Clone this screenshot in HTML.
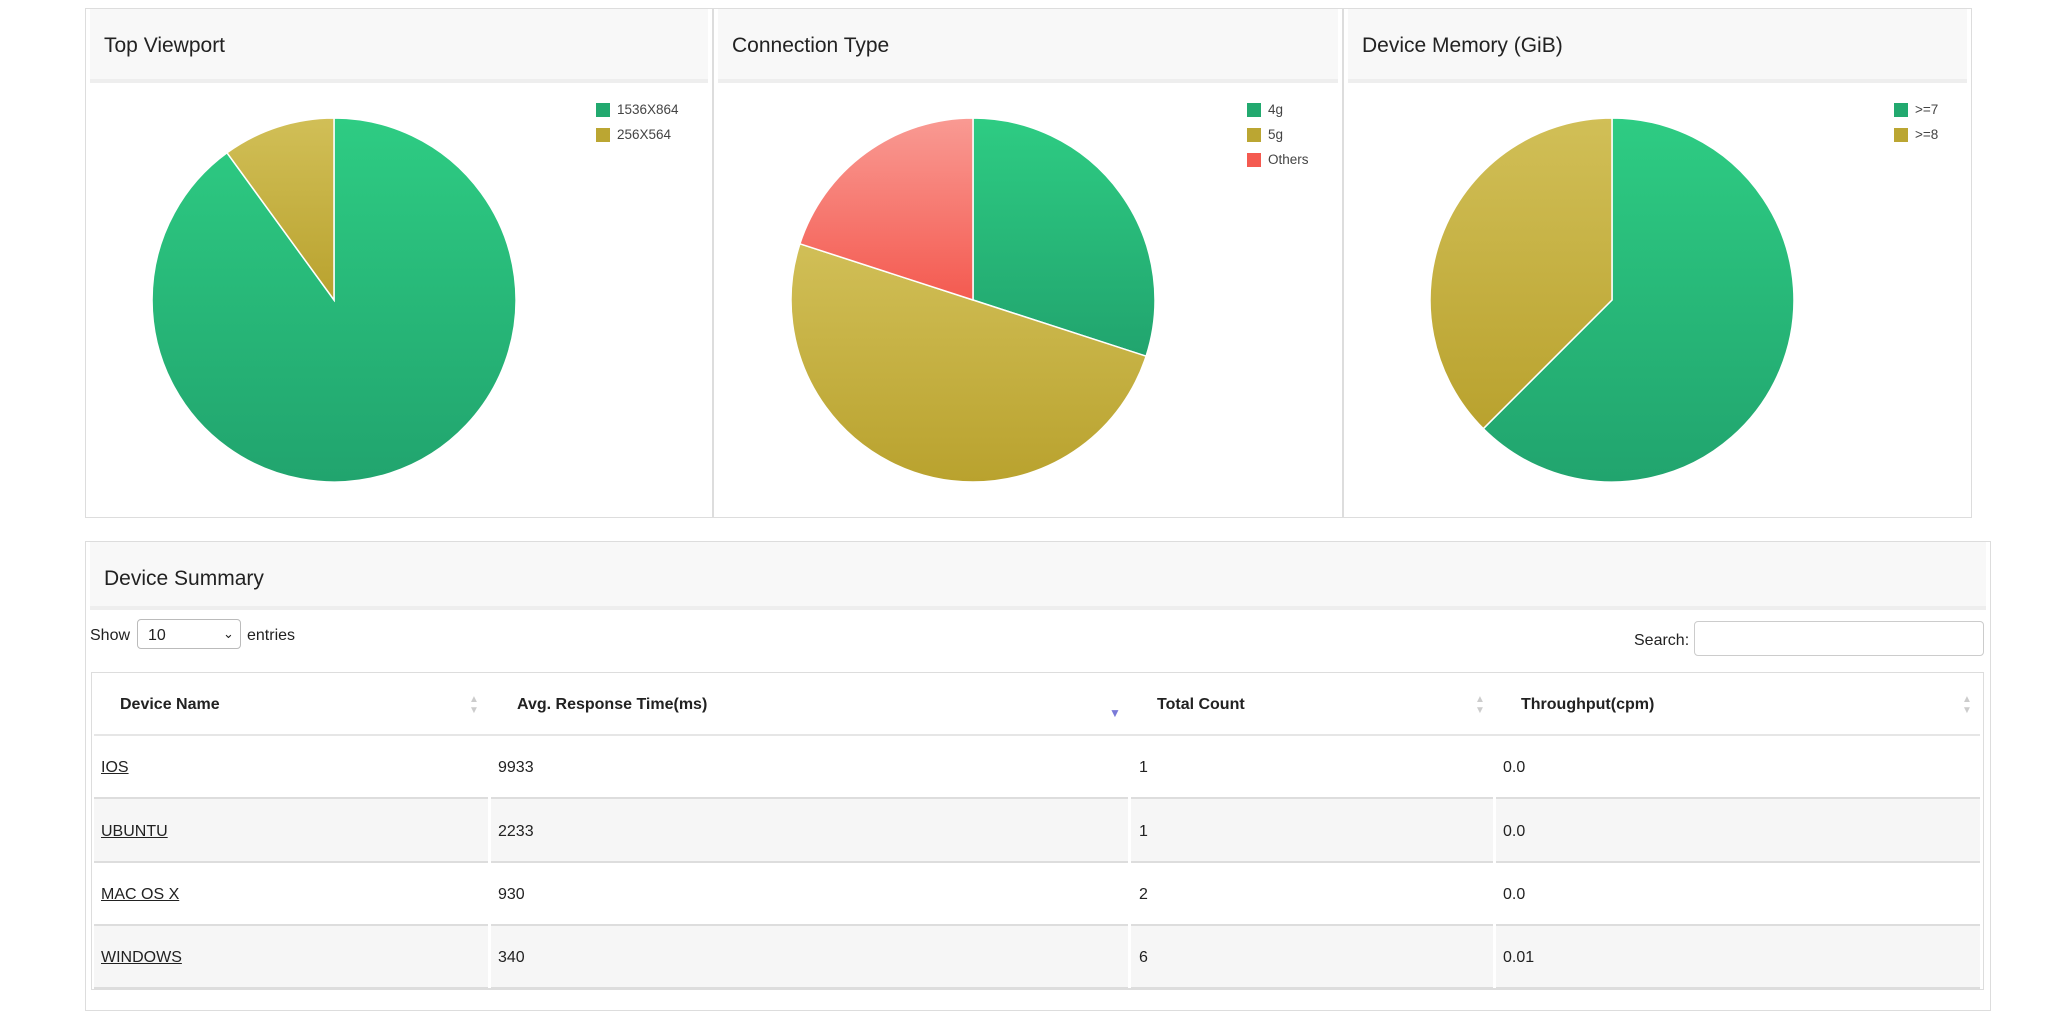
<!DOCTYPE html>
<html><head><meta charset="utf-8"><style>
body{margin:0;width:2048px;height:1000px;background:#fff;font-family:"Liberation Sans",sans-serif;color:#222;position:relative;overflow:hidden}
.a{position:absolute}
.panel{position:absolute;border:1px solid #ddd;background:#fff;box-sizing:border-box}
.hdr{position:absolute;left:4px;right:4px;top:0;height:70px;background:#f8f8f8;border-bottom:4px solid #eee}
.ttl{position:absolute;left:18px;top:25px;font-size:21px;color:#222}
.lg{position:absolute;font-size:13.5px;color:#444;line-height:16px}
.sq{position:absolute;width:14px;height:14px}
.t{position:absolute;font-size:16px;line-height:20px}
.b{font-weight:bold}
.u{text-decoration:underline}
</style></head><body>
<div class="panel" style="left:85px;top:8px;width:628px;height:510px"><div class="hdr"></div><div class="ttl">Top Viewport</div></div>
<div class="panel" style="left:713px;top:8px;width:630px;height:510px"><div class="hdr"></div><div class="ttl">Connection Type</div></div>
<div class="panel" style="left:1343px;top:8px;width:629px;height:510px"><div class="hdr"></div><div class="ttl">Device Memory (GiB)</div></div>
<svg class="a" style="left:0;top:0" width="2048" height="540">
<defs>
<linearGradient id="g2" x1="0" y1="0" x2="0" y2="1"><stop offset="0" stop-color="#2ecc83"/><stop offset="1" stop-color="#21a46e"/></linearGradient>
<linearGradient id="y2" x1="0" y1="0" x2="0" y2="1"><stop offset="0" stop-color="#d1bf57"/><stop offset="1" stop-color="#b9a22e"/></linearGradient>
<linearGradient id="r2" x1="0" y1="0" x2="0" y2="1"><stop offset="0" stop-color="#f99a93"/><stop offset="1" stop-color="#f45a50"/></linearGradient>
</defs>
<g stroke="#fff" stroke-width="1.5">
<path d="M334,300 L334,118 A182,182 0 1,1 227,152.8 Z" fill="url(#g2)"/>
<path d="M334,300 L227,152.8 A182,182 0 0,1 334,118 Z" fill="url(#y2)"/>
<path d="M973,300 L973,118 A182,182 0 0,1 1146.1,356.2 Z" fill="url(#g2)"/>
<path d="M973,300 L1146.1,356.2 A182,182 0 0,1 973,482 A182,182 0 0,1 799.9,243.8 Z" fill="url(#y2)"/>
<path d="M973,300 L799.9,243.8 A182,182 0 0,1 973,118 Z" fill="url(#r2)"/>
<path d="M1612,300 L1612,118 A182,182 0 1,1 1483.3,428.7 Z" fill="url(#g2)"/>
<path d="M1612,300 L1483.3,428.7 A182,182 0 0,1 1612,118 Z" fill="url(#y2)"/>
</g>
</svg>
<div class="sq" style="left:596px;top:103px;background:#22a96f"></div><div class="lg" style="left:617px;top:102px">1536X864</div>
<div class="sq" style="left:596px;top:128px;background:#bba632"></div><div class="lg" style="left:617px;top:127px">256X564</div>
<div class="sq" style="left:1247px;top:103px;background:#22a96f"></div><div class="lg" style="left:1268px;top:102px">4g</div>
<div class="sq" style="left:1247px;top:128px;background:#bba632"></div><div class="lg" style="left:1268px;top:127px">5g</div>
<div class="sq" style="left:1247px;top:153px;background:#f45a50"></div><div class="lg" style="left:1268px;top:152px">Others</div>
<div class="sq" style="left:1894px;top:103px;background:#22a96f"></div><div class="lg" style="left:1915px;top:102px">&gt;=7</div>
<div class="sq" style="left:1894px;top:128px;background:#bba632"></div><div class="lg" style="left:1915px;top:127px">&gt;=8</div>

<div class="panel" style="left:85px;top:541px;width:1906px;height:470px"><div class="hdr" style="height:64px"></div><div class="ttl" style="top:25px">Device Summary</div></div>
<div class="t" style="left:90px;top:626px">Show</div>
<div class="a" style="left:137px;top:619px;width:104px;height:30px;border:1px solid #bbb;border-radius:4px;box-sizing:border-box"></div>
<div class="t" style="left:148px;top:626px">10</div>
<div class="t" style="left:223px;top:624px;font-size:13px">&#8964;</div>
<div class="t" style="left:247px;top:626px">entries</div>
<div class="t" style="left:1634px;top:631px">Search:</div>
<div class="a" style="left:1694px;top:621px;width:290px;height:35px;border:1px solid #ccc;border-radius:4px;box-sizing:border-box"></div>

<div class="a" style="left:91px;top:672px;width:1893px;height:318px;border:1px solid #ddd;box-sizing:border-box"></div>
<div class="a" style="left:94px;top:799px;width:1886px;height:62px;background:#f6f6f6"></div>
<div class="a" style="left:94px;top:926px;width:1886px;height:61px;background:#f6f6f6"></div>
<div class="a" style="left:94px;top:734px;width:1886px;height:2px;background:#e6e6e6"></div>
<div class="a" style="left:94px;top:797px;width:1886px;height:2px;background:#ddd"></div>
<div class="a" style="left:94px;top:861px;width:1886px;height:2px;background:#ddd"></div>
<div class="a" style="left:94px;top:924px;width:1886px;height:2px;background:#ddd"></div>
<div class="a" style="left:94px;top:987px;width:1886px;height:2px;background:#ddd"></div>
<div class="a" style="left:488px;top:736px;width:3px;height:252px;background:#fff"></div>
<div class="a" style="left:1128px;top:736px;width:3px;height:252px;background:#fff"></div>
<div class="a" style="left:1493px;top:736px;width:3px;height:252px;background:#fff"></div>

<div class="t b" style="left:120px;top:695px">Device Name</div>
<div class="t b" style="left:517px;top:695px">Avg. Response Time(ms)</div>
<div class="t b" style="left:1157px;top:695px">Total Count</div>
<div class="t b" style="left:1521px;top:695px">Throughput(cpm)</div>
<div class="t" style="left:469px;top:694px;font-size:10px;line-height:11px;color:#ccc">▲<br>▼</div>
<div class="t" style="left:1475px;top:694px;font-size:10px;line-height:11px;color:#ccc">▲<br>▼</div>
<div class="t" style="left:1962px;top:694px;font-size:10px;line-height:11px;color:#ccc">▲<br>▼</div>
<div class="t" style="left:1109px;top:703px;font-size:12px;color:#7a7ad8">▼</div>

<div class="t u" style="left:101px;top:758px">IOS</div><div class="t" style="left:498px;top:758px">9933</div><div class="t" style="left:1139px;top:758px">1</div><div class="t" style="left:1503px;top:758px">0.0</div>
<div class="t u" style="left:101px;top:822px">UBUNTU</div><div class="t" style="left:498px;top:822px">2233</div><div class="t" style="left:1139px;top:822px">1</div><div class="t" style="left:1503px;top:822px">0.0</div>
<div class="t u" style="left:101px;top:885px">MAC OS X</div><div class="t" style="left:498px;top:885px">930</div><div class="t" style="left:1139px;top:885px">2</div><div class="t" style="left:1503px;top:885px">0.0</div>
<div class="t u" style="left:101px;top:948px">WINDOWS</div><div class="t" style="left:498px;top:948px">340</div><div class="t" style="left:1139px;top:948px">6</div><div class="t" style="left:1503px;top:948px">0.01</div>
</body></html>
